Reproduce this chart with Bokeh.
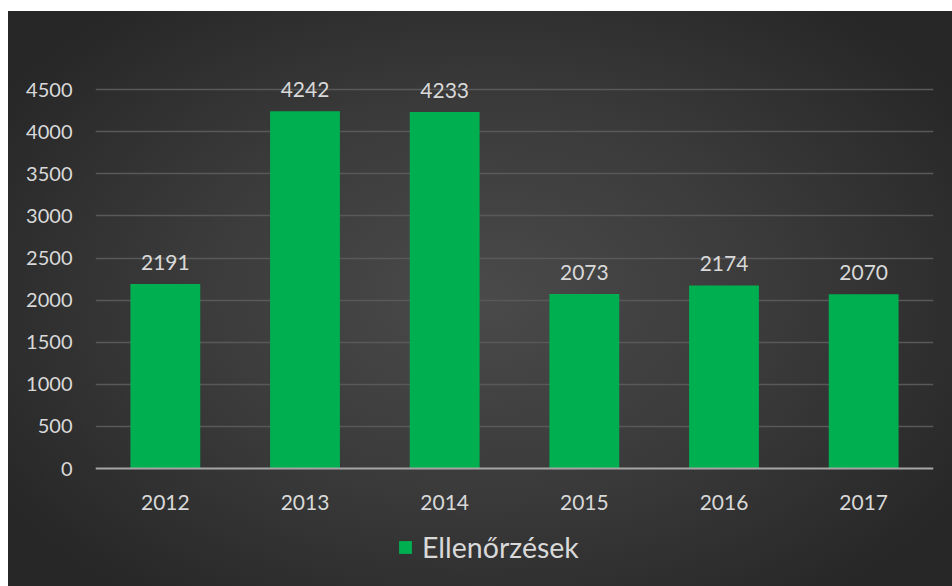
from bokeh.plotting import figure
from bokeh.models import (ColumnDataSource, Legend, LegendItem, FixedTicker, InlineStyleSheet,
                          Spacer, Column, Row)
from bokeh.core.properties import value
from bokeh.embed import file_html
from bokeh.resources import INLINE

years = ["2012", "2013", "2014", "2015", "2016", "2017"]
counts = [2191, 4242, 4233, 2073, 2174, 2070]
y_ticks = [0, 500, 1000, 1500, 2000, 2500, 3000, 3500, 4000, 4500]
series_name = "Ellenőrzések"

FONT = "Lato"
TXT = "#D9D9D9"
GREEN = "#00B050"

src = ColumnDataSource(dict(x=years, top=counts, lbl=[str(c) for c in counts]))

p = figure(x_range=years, y_range=(-1401, 5000), width=944, height=575,
           output_backend="svg", toolbar_location=None,
           min_border_left=87, min_border_right=19, min_border_top=36, min_border_bottom=0)

p.background_fill_alpha = 0
p.border_fill_alpha = 0
p.outline_line_color = None
p.stylesheets = [InlineStyleSheet(css=":host { background: radial-gradient(ellipse 60% 65% at 50% 50%, #4a4a4a 0%, #3b3b3b 50%, #272727 100%); }")]

r = p.vbar(x="x", top="top", width=0.5, source=src, fill_color=GREEN, line_color=None)
p.text(x="x", y="top", text="lbl", source=src, text_align="center", text_baseline="bottom",
       y_offset=-14, text_color=TXT, text_font=value(FONT), text_font_size="21px")

p.yaxis.ticker = FixedTicker(ticks=y_ticks)
p.yaxis.axis_line_color = None
p.yaxis.major_tick_line_color = None
p.yaxis.minor_tick_line_color = None
p.yaxis.major_label_standoff = 17
p.yaxis.major_label_text_color = TXT
p.yaxis.major_label_text_font = FONT
p.yaxis.major_label_text_font_size = "20px"

p.xaxis.fixed_location = 0
p.xaxis.axis_line_color = "#A6A6A6"
p.xaxis.axis_line_width = 2
p.xaxis.major_tick_line_color = None
p.xaxis.minor_tick_line_color = None
p.xaxis.major_label_standoff = 20
p.xaxis.major_label_text_color = TXT
p.xaxis.major_label_text_font = FONT
p.xaxis.major_label_text_font_size = "21px"

p.xgrid.grid_line_color = None
p.ygrid.ticker = FixedTicker(ticks=y_ticks[1:])
p.ygrid.grid_line_color = "#595959"
p.ygrid.grid_line_width = 1.5

legend = Legend(items=[LegendItem(label=series_name, renderers=[r])],
                location=(302, 22), orientation="horizontal",
                background_fill_alpha=0, border_line_color=None,
                label_text_color=TXT, label_text_font=FONT, label_text_font_size="28.5px",
                glyph_width=16, glyph_height=16, label_standoff=9, padding=0, margin=0)
p.add_layout(legend, "center")

layout = Column(Spacer(height=11, width=952), Row(Spacer(width=8, height=575), p, spacing=0), spacing=0)

open("out.html", "w").write(file_html(layout, INLINE))
